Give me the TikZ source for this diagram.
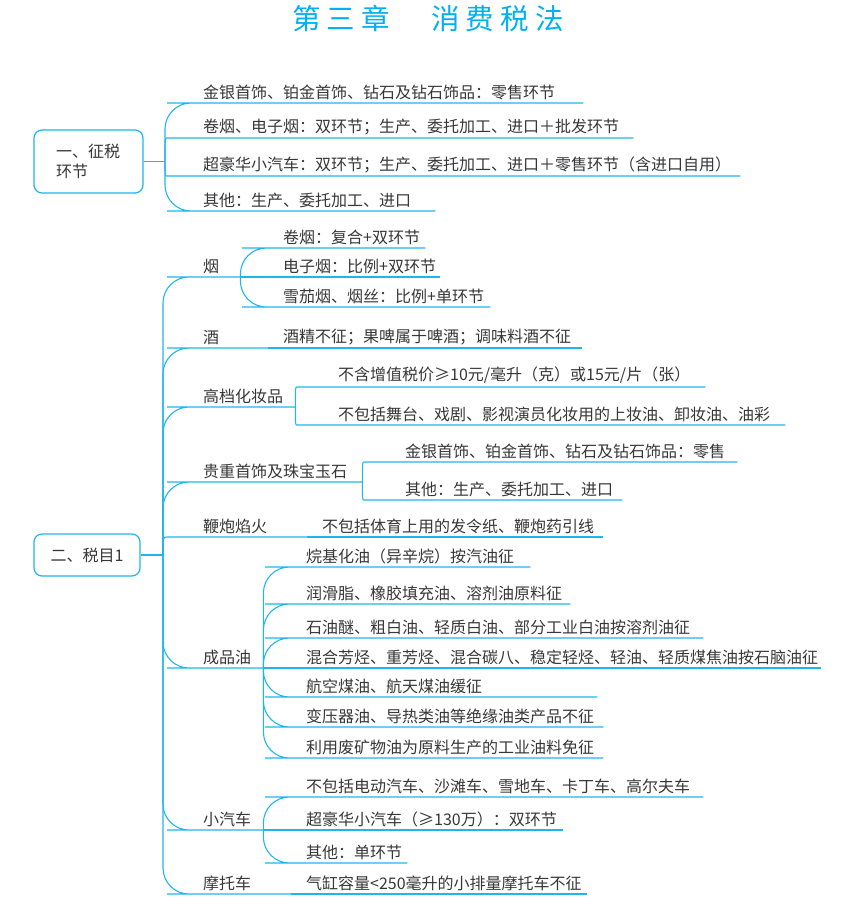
\documentclass[tikz,border=0pt]{standalone}
\usepackage{fontspec}
\setmainfont{Noto Sans CJK SC}
\newfontfamily\titlefont[LetterSpace=22]{Noto Sans CJK SC}
\usepackage{xcolor}
\usepackage{tikz}
\usetikzlibrary{positioning}

\definecolor{lineblue}{RGB}{30,182,236}
\definecolor{titleblue}{RGB}{0,176,240}
\definecolor{txt}{RGB}{55,55,55}
\newcommand{\mmfont}{\fontsize{16}{20}\selectfont}

\begin{document}
\begin{tikzpicture}[x=1pt,y=-1pt,font=\mmfont,
  rootbox/.style={draw=lineblue,line width=1.2pt,rounded corners=8pt,fill=white,text=txt,align=center},
  leaf/.style={anchor=south west,inner xsep=0pt,inner ysep=3pt,text=txt,align=left},
  lab/.style={leaf,execute at begin node={\noindent\hspace*{10pt}}},
  sub/.style={leaf,execute at begin node={\noindent\hspace*{15pt}}},
  conn/.style={draw=lineblue,line width=1.1pt,rounded corners=26pt}]
\useasboundingbox (0,0) rectangle (861,904);

% title
\node[font={\titlefont\fontsize{28.5}{32}\selectfont},text=titleblue] (t) at (428,19) {第三章　消费税法};

% 一、征税环节
\node[rootbox,minimum width=109pt,minimum height=63pt,text width=65pt,align=left] (r1) at (88.5,161.5) {一、征税\\环节};
\coordinate (b1) at (165,161.5);
\node[lab,text width=390pt] (k1) at (193,103) {金银首饰、铂金首饰、钻石及钻石饰品：零售环节};
\node[lab,text width=440pt] (k2) at (193,138) {卷烟、电子烟：双环节；生产、委托加工、进口＋批发环节};
\node[lab,text width=547pt] (k3) at (193,176) {超豪华小汽车：双环节；生产、委托加工、进口＋零售环节（含进口自用）};
\node[lab,text width=242pt] (k4) at (193,211) {其他：生产、委托加工、进口};
\draw[conn] (r1.east) -- (b1);
\draw[conn] (b1) |- (k1.south west) -- (k1.south east);
\draw[conn] (b1) .. controls (b1 |- k2.south west) .. (k2.south west) -- (k2.south east);
\draw[conn] (b1) .. controls (b1 |- k3.south west) .. (k3.south west) -- (k3.south east);
\draw[conn] (b1) |- (k4.south west) -- (k4.south east);

% 二、税目1
\node[rootbox,minimum width=106pt,minimum height=42pt] (r2) at (87,555) {二、税目1};
\coordinate (b2) at (163,555);
\node[lab,text width=47pt] (c1) at (193,277) {烟};
\node[lab,text width=75pt] (c2) at (193,348) {酒};
\node[lab,text width=102pt] (c3) at (193,407) {高档化妆品};
\node[lab,text width=169pt] (c4) at (193,482) {贵重首饰及珠宝玉石};
\node[lab,text width=114pt] (c5) at (193,537) {鞭炮焰火};
\node[lab,text width=70pt] (c6) at (193,668) {成品油};
\node[lab,text width=70pt] (c7) at (193,830) {小汽车};
\node[lab,text width=98pt] (c8) at (193,894) {摩托车};
\draw[conn] (r2.east) -- (b2);
\draw[conn] (b2) |- (c1.south west) -- (c1.south east);
\draw[conn] (b2) |- (c2.south west) -- (c2.south east);
\draw[conn] (b2) |- (c3.south west) -- (c3.south east);
\draw[conn] (b2) |- (c4.south west) -- (c4.south east);
\draw[conn] (b2) .. controls (b2 |- c5.south west) .. (c5.south west) -- (c5.south east);
\draw[conn] (b2) |- (c6.south west) -- (c6.south east);
\draw[conn] (b2) |- (c7.south west) -- (c7.south east);
\draw[conn] (b2) |- (c8.south west) -- (c8.south east);

% 烟
\node[sub,text width=157pt] (c1a) at (268,248) {卷烟：复合+双环节};
\node[sub,text width=172pt] (c1b) at (268,277) {电子烟：比例+双环节};
\node[sub,text width=222pt] (c1c) at (268,307) {雪茄烟、烟丝：比例+单环节};
\draw[conn] (c1.south east) |- (c1a.south west) -- (c1a.south east);
\draw[conn] (c1.south east) -- (c1b.south east);
\draw[conn] (c1.south east) |- (c1c.south west) -- (c1c.south east);

% 酒
\node[sub,text width=314pt] (c2a) at (268,348) {酒精不征；果啤属于啤酒；调味料酒不征};
\draw[conn] (c2.south east) -- (c2a.south east);

% 高档化妆品
\node[sub,text width=382pt] (c3a) at (323,387) {不含增值税价≥10元/毫升（克）或15元/片（张）};
\node[sub,text width=462pt] (c3b) at (323,425) {不包括舞台、戏剧、影视演员化妆用的上妆油、卸妆油、油彩};
\draw[conn] (c3.south east) .. controls (c3.south east |- c3a.south west) .. (c3a.south west) -- (c3a.south east);
\draw[conn] (c3.south east) .. controls (c3.south east |- c3b.south west) .. (c3b.south west) -- (c3b.south east);

% 贵重首饰及珠宝玉石
\node[sub,text width=347pt] (c4a) at (390,462) {金银首饰、铂金首饰、钻石及钻石饰品：零售};
\node[sub,text width=232pt] (c4b) at (390,500) {其他：生产、委托加工、进口};
\draw[conn] (c4.south east) .. controls (c4.south east |- c4a.south west) .. (c4a.south west) -- (c4a.south east);
\draw[conn] (c4.south east) .. controls (c4.south east |- c4b.south west) .. (c4b.south west) -- (c4b.south east);

% 鞭炮焰火
\node[sub,text width=296pt] (c5a) at (307,537) {不包括体育上用的发令纸、鞭炮药引线};
\draw[conn] (c5.south east) -- (c5a.south east);

% 成品油
\node[sub,text width=239pt] (c6a) at (291,567) {烷基化油（异辛烷）按汽油征};
\node[sub,text width=279pt] (c6b) at (291,604) {润滑脂、橡胶填充油、溶剂油原料征};
\node[sub,text width=412pt] (c6c) at (291,638) {石油醚、粗白油、轻质白油、部分工业白油按溶剂油征};
\node[sub,text width=530pt] (c6d) at (291,668) {混合芳烃、重芳烃、混合碳八、稳定轻烃、轻油、轻质煤焦油按石脑油征};
\node[sub,text width=306pt] (c6e) at (291,697) {航空煤油、航天煤油缓征};
\node[sub,text width=312pt] (c6f) at (291,727) {变压器油、导热类油等绝缘油类产品不征};
\node[sub,text width=312pt] (c6g) at (291,758) {利用废矿物油为原料生产的工业油料免征};
\draw[conn] (c6.south east) |- (c6a.south west) -- (c6a.south east);
\draw[conn] (c6.south east) |- (c6b.south west) -- (c6b.south east);
\draw[conn] (c6.south east) |- (c6c.south west) -- (c6c.south east);
\draw[conn] (c6.south east) -- (c6d.south east);
\draw[conn] (c6.south east) |- (c6e.south west) -- (c6e.south east);
\draw[conn] (c6.south east) |- (c6f.south west) -- (c6f.south east);
\draw[conn] (c6.south east) |- (c6g.south west) -- (c6g.south east);

% 小汽车
\node[sub,text width=412pt] (c7a) at (291,797) {不包括电动汽车、沙滩车、雪地车、卡丁车、高尔夫车};
\node[sub,text width=272pt] (c7b) at (291,830) {超豪华小汽车（≥130万）：双环节};
\node[sub,text width=116pt] (c7c) at (291,863) {其他：单环节};
\draw[conn] (c7.south east) |- (c7a.south west) -- (c7a.south east);
\draw[conn] (c7.south east) -- (c7b.south east);
\draw[conn] (c7.south east) |- (c7c.south west) -- (c7c.south east);

% 摩托车
\node[sub,text width=296pt] (c8a) at (291,894) {气缸容量<250毫升的小排量摩托车不征};
\draw[conn] (c8.south east) -- (c8a.south east);
\end{tikzpicture}
\end{document}
